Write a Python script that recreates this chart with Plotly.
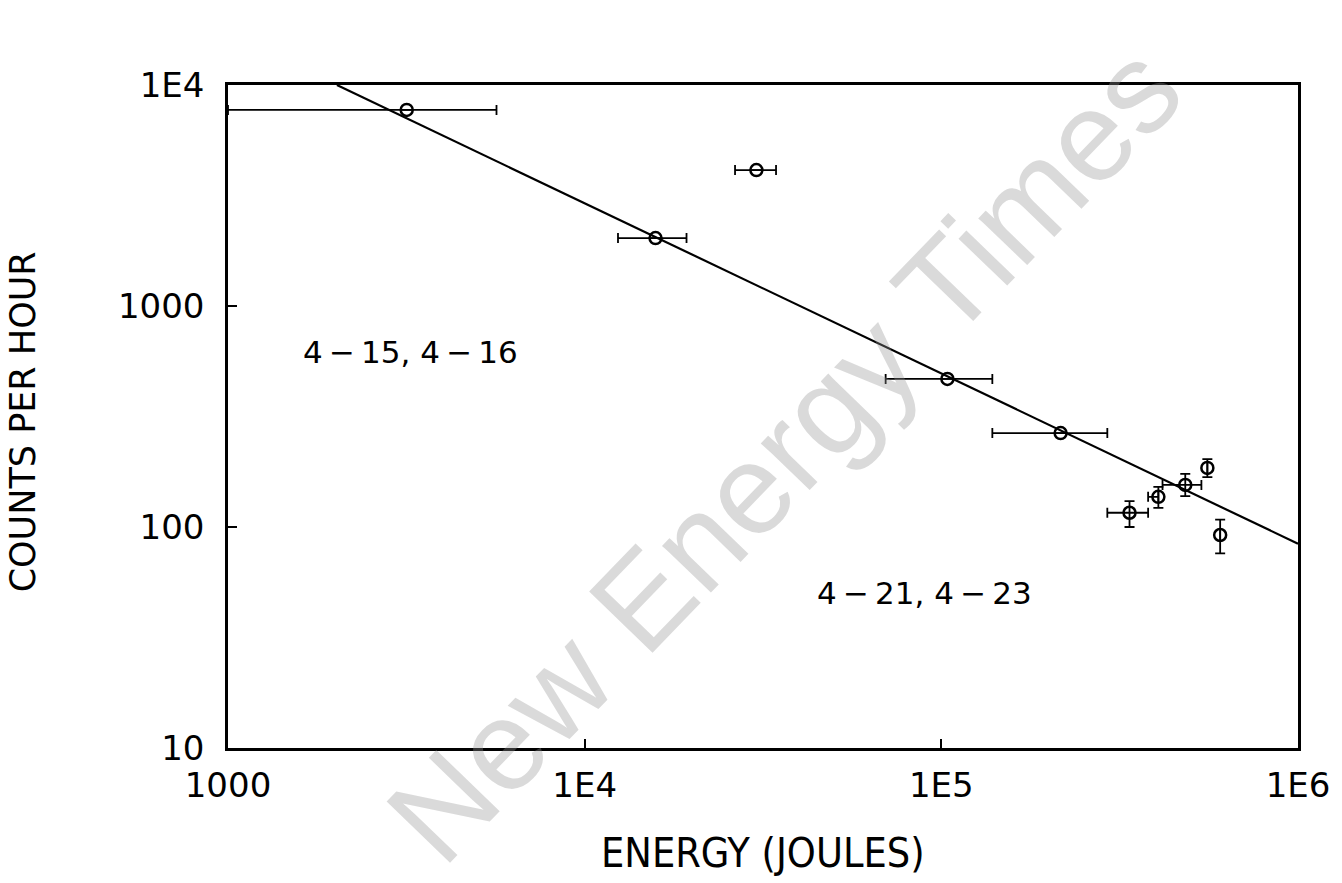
import plotly.graph_objects as go
import numpy as np

# Data
energy = [3170, 30300, 15800, 104000, 216000, 337000, 406000, 483000, 557000, 605000]
counts = [7710, 4120, 2030, 468, 266, 116, 137, 155, 185, 92]
energy_low = [1000, 26400, 12400, 69800, 139000, 292000, 380000, 417000, 557000, 605000]
energy_high = [5660, 34400, 19300, 139000, 292000, 380000, 406000, 536000, 557000, 605000]
counts_low = [7710, 4120, 2030, 468, 266, 100, 122, 138, 168, 76]
counts_high = [7710, 4120, 2030, 468, 266, 131, 152, 174, 203, 108]

fit_energy = [2020, 1000000]
fit_counts = [10000, 84]

x_ticks = [1000, 10000, 100000, 1000000]
x_tick_labels = ["1000", "1E4", "1E5", "1E6"]
y_ticks = [10, 100, 1000, 10000]
y_tick_labels = ["10", "100", "1000", "1E4"]

label_texts = ["4\u2009\u2212\u200915, 4\u2009\u2212\u200916", "4\u2009\u2212\u200921, 4\u2009\u2212\u200923"]
label_energy = [3250, 89900]
label_counts = [620, 50.3]

e = np.array(energy, float); c = np.array(counts, float)
ex_plus = np.array(energy_high) - e
ex_minus = e - np.array(energy_low)
ey_plus = np.array(counts_high) - c
ey_minus = c - np.array(counts_low)

FONT = "DejaVu Sans"

fig = go.Figure()
fig.add_trace(go.Scatter(x=fit_energy, y=fit_counts, mode="lines",
                         line=dict(color="black", width=2.2), hoverinfo="skip",
                         showlegend=False))
fig.add_trace(go.Scatter(
    x=energy, y=counts, mode="markers",
    marker=dict(symbol="circle-open", size=12, color="black", line=dict(width=2.5)),
    error_x=dict(type="data", array=ex_plus, arrayminus=ex_minus, color="black",
                 thickness=1.8, width=5),
    error_y=dict(type="data", array=ey_plus, arrayminus=ey_minus, color="black",
                 thickness=1.8, width=5),
    showlegend=False))

axis_common = dict(showline=True, linecolor="black", linewidth=2.5, mirror=True,
                   showgrid=False, zeroline=False, ticks="inside", ticklen=9,
                   tickwidth=1.8, tickcolor="black")

fig.update_xaxes(type="log", range=[3, 6], tickvals=x_ticks, ticktext=x_tick_labels,
                 tickfont=dict(family=FONT, size=34, color="black"),
                 ticklabelstandoff=5, **axis_common)
fig.update_yaxes(type="log", range=[1, 4], tickvals=y_ticks, ticktext=y_tick_labels,
                 tickfont=dict(family=FONT, size=34, color="black"),
                 ticklabelstandoff=14, **axis_common)

# axis titles
fig.add_annotation(text="ENERGY (JOULES)", xref="paper", yref="paper",
                   x=0.5, y=-0.158, yanchor="middle", showarrow=False,
                   font=dict(family="DejaVu Sans Condensed, DejaVu Sans", size=41, color="black"))
fig.add_annotation(text="COUNTS PER HOUR", xref="paper", yref="paper",
                   x=-0.192, y=0.492, xanchor="center", yanchor="middle",
                   textangle=-90, showarrow=False,
                   font=dict(family=FONT, size=35, color="black"))

for t, xe, yc in zip(label_texts, label_energy, label_counts):
    fig.add_annotation(text=t, xref="x", yref="y", x=np.log10(xe), y=np.log10(yc),
                       showarrow=False, font=dict(family=FONT, size=31, color="black"))

fig.add_annotation(text="New Energy Times", xref="paper", yref="paper",
                   x=0.52, y=0.445, textangle=-46, showarrow=False,
                   font=dict(family="Liberation Sans", size=128, color="rgba(150,150,150,0.35)"))

fig.update_layout(width=1342, height=883, plot_bgcolor="white", paper_bgcolor="white",
                  margin=dict(l=228, r=42, t=85, b=135))
fig.write_html("out.html")
